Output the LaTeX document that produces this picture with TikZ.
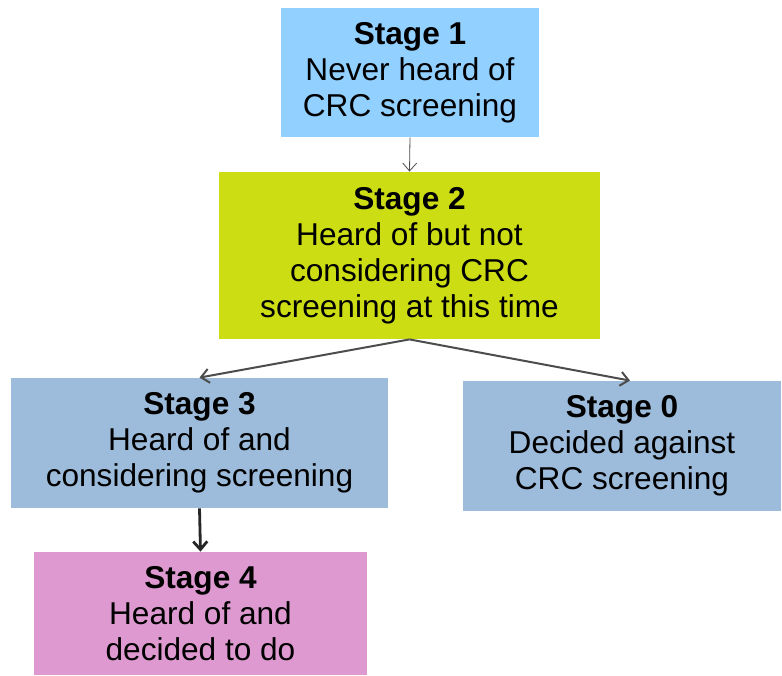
\documentclass[tikz,border=0pt]{standalone}
\usepackage{fontspec}
\setmainfont{Liberation Sans}
\usepackage{tikz}
\usetikzlibrary{arrows.meta}
\usepackage{xcolor}
\definecolor{stageblue}{HTML}{92D0FF}
\definecolor{stagelime}{HTML}{CCDD14}
\definecolor{stagesteel}{HTML}{9DBBDA}
\definecolor{stagepink}{HTML}{DD99D0}
\tikzset{
    stage-box/.style = {rectangle, inner sep=0pt, align=center, font=\fontsize{15.8}{18}\selectfont},
    stage-link/.style = {draw=black!70, -{Straight Barb[length=4pt,width=7pt]}},
}

\begin{document}
\begin{tikzpicture}[x=0.5pt, y=0.5pt]
\useasboundingbox (0,0) rectangle (782,-675);
\node [stage-box, fill=stageblue, minimum width=129pt, minimum height=64.5pt] (s1) at (410,-72.5)
    {\textbf{Stage 1}\\Never heard of\\CRC screening};
\node [stage-box, fill=stagelime, minimum width=190.5pt, minimum height=83.5pt] (s2) at (409.5,-255.5)
    {\textbf{Stage 2}\\Heard of but not\\considering CRC\\screening at this time};
\node [stage-box, fill=stagesteel, minimum width=188.5pt, minimum height=65pt] (s3) at (199.5,-443)
    {\textbf{Stage 3}\\Heard of and\\considering screening};
\node [stage-box, fill=stagesteel, minimum width=159pt, minimum height=65pt] (s0) at (622,-446)
    {\textbf{Stage 0}\\Decided against\\CRC screening};
\node [stage-box, fill=stagepink, minimum width=166.5pt, minimum height=61.5pt] (s4) at (200.5,-613.5)
    {\textbf{Stage 4}\\Heard of and\\decided to do};
\draw [stage-link, thin] (s1.south) -- (s2.north);
\draw [stage-link, line width=1pt] (s2.south) -- (s3.north);
\draw [stage-link, line width=1pt] (s2.south) -- ([xshift=4pt]s0.north);
\draw [stage-link, draw=black!85, line width=1.4pt] (s3.south) -- (s4.north);
\end{tikzpicture}
\end{document}
